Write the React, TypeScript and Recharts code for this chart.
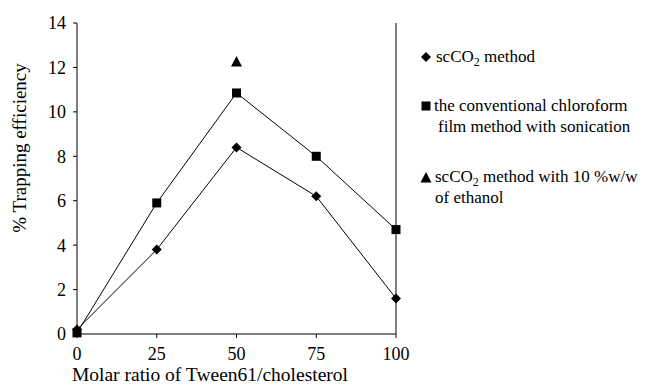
import React from 'react';
import { LineChart, Line, XAxis, YAxis, ReferenceLine } from 'recharts';

const ratios = [0, 25, 50, 75, 100];
const scco2 = [0.2, 3.8, 8.4, 6.2, 1.6];
const conventional = [0.05, 5.9, 10.85, 8.0, 4.7];
const ethanol: (number | null)[] = [null, null, 12.25, null, null];
const xTicks = [0, 25, 50, 75, 100];
const yTicks = [0, 2, 4, 6, 8, 10, 12, 14];

const data = ratios.map((r, i) => ({ r, scco2: scco2[i], conventional: conventional[i], ethanol: ethanol[i] }));

const FONT = '"Liberation Serif", "Times New Roman", serif';

const Diamond = (props: any) => {
  const { cx, cy } = props;
  if (cx == null || cy == null || props.value == null) return null;
  const s = 5;
  return <path d={`M${cx},${cy - s}L${cx + s},${cy}L${cx},${cy + s}L${cx - s},${cy}Z`} fill="#000" />;
};
const Square = (props: any) => {
  const { cx, cy } = props;
  if (cx == null || cy == null || props.value == null) return null;
  const s = 4.5;
  return <rect x={cx - s} y={cy - s} width={2 * s} height={2 * s} fill="#000" />;
};
const Triangle = (props: any) => {
  const { cx, cy } = props;
  if (cx == null || cy == null || props.value == null) return null;
  return <path d={`M${cx},${cy - 6}L${cx + 5.5},${cy + 4.5}L${cx - 5.5},${cy + 4.5}Z`} fill="#000" />;
};

const Sub = ({ children }: any) => (
  <tspan fontSize={12} dy={4}>{children}</tspan>
);

const T = (props: any) => (
  <text fontSize={17} fontFamily={FONT} style={{ fontFamily: FONT }} fill="#000" {...props} />
);

const LegendBox = () => (
  <svg width={240} height={190} style={{ position: 'absolute', left: 400, top: 22, overflow: 'visible' }}>
    <path d="M18,22L23,27L18,32L13,27Z" fill="#000" />
    <T x={28} y={32}>
      scCO<Sub>2</Sub><tspan dy={-4}> method</tspan>
    </T>
    <rect x={13.5} y={71.5} width={9} height={9} fill="#000" />
    <T x={26} y={81}>the conventional chloroform</T>
    <T x={30} y={102}>film method with sonication</T>
    <path d="M18,142L23.5,152.5L12.5,152.5Z" fill="#000" />
    <T x={27} y={151.5}>
      scCO<Sub>2</Sub><tspan dy={-4}> method with 10 %w/w</tspan>
    </T>
    <T x={27} y={172.5}>of ethanol</T>
  </svg>
);

export default function App() {
  return (
    <div style={{ position: 'relative', width: 640, height: 380 }}>
      <LineChart
        width={640}
        height={380}
        data={data}
        margin={{ top: 15, right: 252, left: 0, bottom: 5 }}
        style={{ fontFamily: FONT }}
      >
        <XAxis
          dataKey="r"
          type="number"
          domain={[0, 100]}
          ticks={xTicks}
          stroke="#000"
          tickSize={4}
          tickMargin={9}
          height={49}
          tick={{ fill: '#000', fontSize: 18, fontFamily: FONT }}
          label={{
            content: () => (
              <text x={202} y={373} textAnchor="middle" fontSize={19.5} fontFamily={FONT} fill="#000">
                Molar ratio of Tween61/cholesterol
              </text>
            ),
          }}
        />
        <YAxis
          type="number"
          domain={[0, 14]}
          ticks={yTicks}
          interval={0}
          stroke="#000"
          tickSize={4}
          tickMargin={7}
          width={69}
          tick={{ fill: '#000', fontSize: 18, fontFamily: FONT }}
          label={{
            content: () => (
              <text
                x={18}
                y={140}
                transform="rotate(-90 18 140)"
                textAnchor="middle"
                fontSize={19}
                fontFamily={FONT}
                fill="#000"
              >
                % Trapping efficiency
              </text>
            ),
          }}
        />
        <ReferenceLine x={100} stroke="#000" />
        <Line dataKey="conventional" stroke="#000" strokeWidth={1} dot={<Square />} isAnimationActive={false} />
        <Line dataKey="scco2" stroke="#000" strokeWidth={1} dot={<Diamond />} isAnimationActive={false} />
        <Line dataKey="ethanol" stroke="none" dot={<Triangle />} isAnimationActive={false} />
      </LineChart>
      <LegendBox />
    </div>
  );
}
